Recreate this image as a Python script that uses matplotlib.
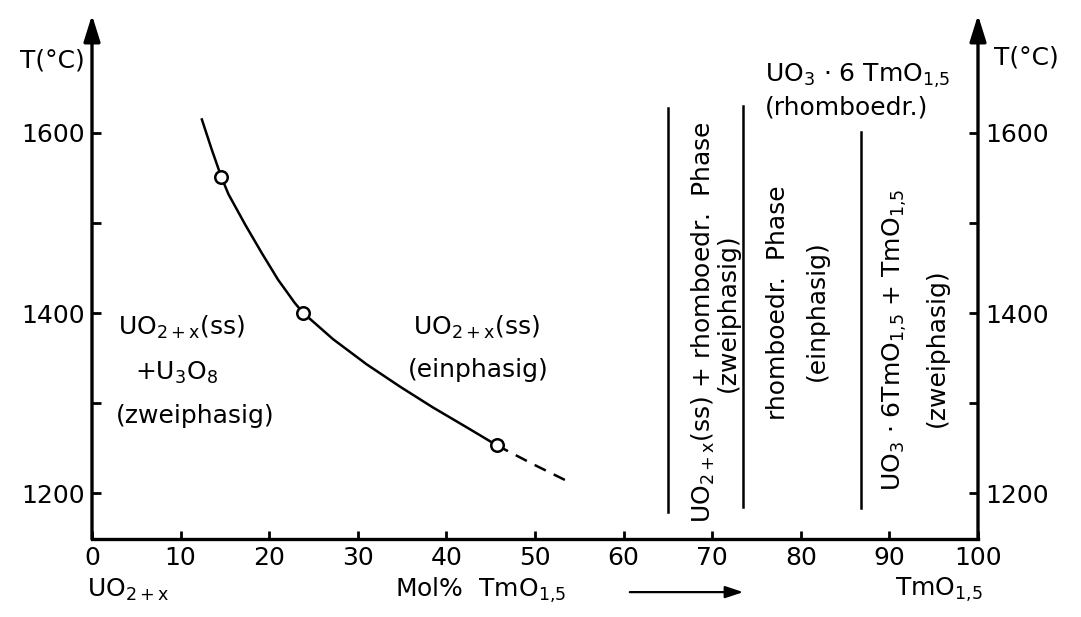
import numpy as np
import matplotlib
matplotlib.use("Agg")
import matplotlib.pyplot as plt

plt.rcParams['font.family'] = ['DejaVu Sans']
plt.rcParams['mathtext.default'] = 'regular'
plt.rcParams['font.size'] = 18

# boundary curve of UO2+x(ss)
curve_x = [12.4, 13.5, 14.6, 15.4, 17.3, 19.2, 21.0, 22.9, 23.85,
           27.2, 31.0, 34.8, 38.5, 42.3, 45.7]
curve_t = [1615, 1582, 1551, 1532, 1498, 1466, 1437, 1411, 1400,
           1371, 1343, 1318, 1295, 1273, 1253]
# dashed continuation
dash_x = [45.7, 49.8, 53.7]
dash_t = [1253, 1232, 1213]
# measured points
meas_x = [14.6, 23.85, 45.7]
meas_t = [1551, 1400, 1253]

# vertical phase boundaries: x, T bottom, T top
bound_x = [65.0, 73.5, 86.8]
bound_lo = [1179, 1184, 1183]
bound_hi = [1628, 1630, 1601]

xticks = [0, 10, 20, 30, 40, 50, 60, 70, 80, 90, 100]
yticks = [1200, 1300, 1400, 1500, 1600]
ylabels = ['1200', '', '1400', '', '1600']

fig = plt.figure(figsize=(10.81, 6.17), dpi=100)
ax = fig.add_axes([92/1081, 78/617, 886/1081, 524/617])
ax.set_xlim(0, 100)
ax.set_ylim(1149, 1731)

ax.plot(curve_x, curve_t, color='black', lw=1.8)
ax.plot(dash_x, dash_t, color='black', lw=1.8, dashes=(5, 3.5))
ax.plot(meas_x, meas_t, 'o', ms=9, mfc='white', mec='black', mew=1.8)

for bx, lo, hi in zip(bound_x, bound_lo, bound_hi):
    ax.plot([bx, bx], [lo, hi], color='black', lw=1.8)

# axes and ticks
for s in ['top', 'left', 'right']:
    ax.spines[s].set_visible(False)
ax.spines['bottom'].set_linewidth(2.4)
ax.set_xticks(xticks)
ax.set_yticks(yticks)
ax.set_yticklabels(ylabels)
ax.tick_params(axis='x', direction='in', length=6, width=2, pad=5)
ax.tick_params(axis='y', direction='in', length=6.5, width=2, pad=5,
               left=True, right=True, labelleft=True, labelright=True)

arrow = dict(arrowstyle='-|>,head_length=0.8,head_width=0.25', lw=2.4,
             color='black', shrinkA=0, shrinkB=0, mutation_scale=20)
ax.annotate('', xy=(0, 1731), xytext=(0, 1149), arrowprops=arrow,
            annotation_clip=False)
ax.annotate('', xy=(100, 1731), xytext=(100, 1149), arrowprops=arrow,
            annotation_clip=False)

# axis titles
ax.text(-0.8, 1680, 'T(°C)', ha='right', va='center', clip_on=False)
ax.text(101.8, 1684, 'T(°C)', ha='left', va='center', clip_on=False)
ax.text(-0.6, 1092, 'UO$_{2+x}$', ha='left', va='center', clip_on=False)
ax.text(34.2, 1092, 'Mol%  TmO$_{1{,}5}$', ha='left', va='center', clip_on=False)
ax.text(90.6, 1092, 'TmO$_{1{,}5}$', ha='left', va='center', clip_on=False)
ax.annotate('', xy=(73.5, 1090), xytext=(60.7, 1090), annotation_clip=False,
            arrowprops=dict(arrowstyle='-|>,head_length=0.6,head_width=0.2',
                            lw=1.6, color='black', mutation_scale=18,
                            shrinkA=0, shrinkB=0))

# region labels
ax.text(2.9, 1384, 'UO$_{2+x}$(ss)', ha='left', va='center')
ax.text(4.9, 1334, '+U$_3$O$_8$', ha='left', va='center')
ax.text(2.7, 1286, '(zweiphasig)', ha='left', va='center')
ax.text(36.2, 1384, 'UO$_{2+x}$(ss)', ha='left', va='center')
ax.text(35.7, 1337, '(einphasig)', ha='left', va='center')
ax.text(76.0, 1663, 'UO$_3$ · 6 TmO$_{1{,}5}$', ha='left', va='center')
ax.text(76.0, 1628, '(rhomboedr.)', ha='left', va='center')

ax.text(69.0, 1390, 'UO$_{2+x}$(ss) + rhomboedr.  Phase', rotation=90,
        ha='center', va='center')
ax.text(71.8, 1400, '(zweiphasig)', rotation=90, ha='center', va='center')
ax.text(77.4, 1411, 'rhomboedr.  Phase', rotation=90, ha='center', va='center')
ax.text(81.8, 1403, '(einphasig)', rotation=90, ha='center', va='center')
ax.text(90.6, 1370, 'UO$_3$ · 6TmO$_{1{,}5}$ + TmO$_{1{,}5}$', rotation=90,
        ha='center', va='center')
ax.text(95.4, 1361, '(zweiphasig)', rotation=90, ha='center', va='center')

fig.savefig('out.png', dpi=100)
